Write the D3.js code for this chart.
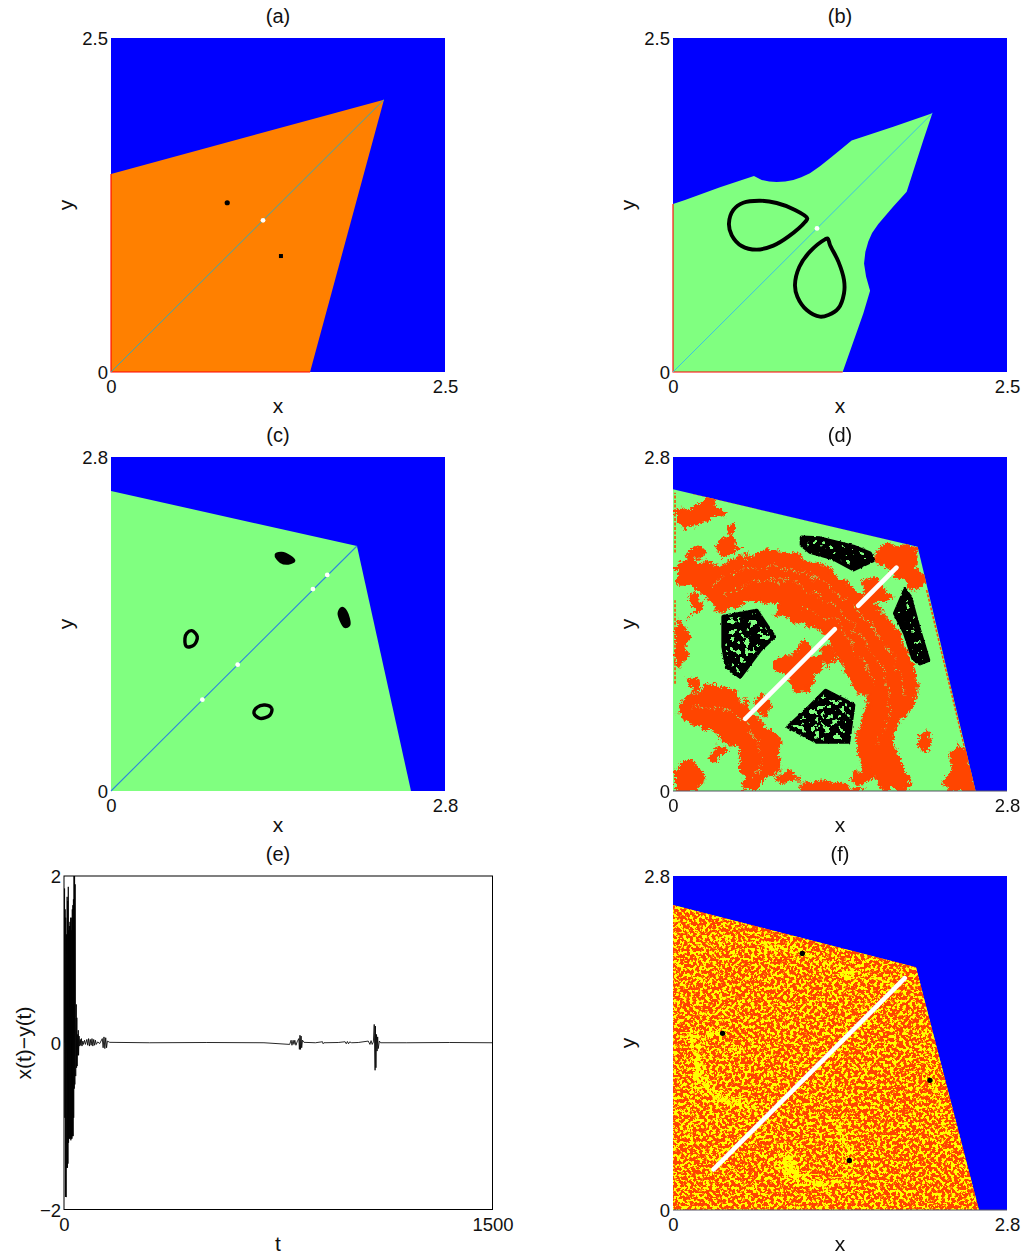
<!DOCTYPE html>
<html><head><meta charset="utf-8">
<script src="https://cdn.jsdelivr.net/npm/d3@7"></script>
<style>html,body{margin:0;padding:0;background:#fff}svg{display:block}
text{font-family:"Liberation Sans",Arial,sans-serif;fill:#111}</style></head>
<body><div id="c"></div>
<script>
// ---------- data (all in axis units) ----------
const regionA=[[0,0],[0,1.482],[2.043,2.038],[1.49,0]];
const regionB=[[0,0],[0,1.257],[.09,1.287],[.352,1.382],[.606,1.467],[.664,1.437],[.72,1.425],[.776,1.422],[.84,1.425],[.901,1.437],[.96,1.458],[1.025,1.487],[1.1,1.54],[1.175,1.599],[1.26,1.67],[1.337,1.732],[1.649,1.836],[1.941,1.936],[1.874,1.737],[1.749,1.35],[1.649,1.238],[1.537,1.108],[1.49,1.04],[1.462,.976],[1.44,.9],[1.43,.813],[1.445,.714],[1.475,.609],[1.425,.439],[1.27,0]];
const tipB=[1.941,1.936];
const regionC=[[0,0],[0,2.515],[2.062,2.054],[2.515,0]];
const regionD=[[0,0],[0,2.529],[2.051,2.048],[2.537,0]];
const regionF=[[0,0],[0,2.557],[2.037,2.034],[2.565,0]];

const dotsABlack=[[.87,1.267]];
const dotsASquare=[[1.272,.868]];
const dotsAWhite=[[1.138,1.135]];
const dotsBWhite=[[1.078,1.075]];
const dotsCWhite=[[.766,.766],[1.062,1.059],[1.693,1.693],[1.813,1.811]];
const dotsFBlack=[[1.084,2.151],[.416,1.481],[2.154,1.087],[1.478,.416]];

const dropB1=[[1.005,1.15],[.901,1.218],[.776,1.265],[.651,1.282],[.526,1.267],[.452,1.213],[.419,1.113],[.439,1.025],[.514,.943],[.626,.916],[.751,.946],[.863,1.013],[.99,1.125]];
const dropB2=[[1.158,1.0],[1.175,.951],[1.238,.826],[1.28,.689],[1.28,.589],[1.238,.477],[1.163,.427],[1.1,.414],[1.001,.464],[.931,.564],[.913,.651],[.946,.788],[1.025,.901],[1.138,.993]];

const ovalC1=[[1.383,1.978],[1.431,1.993],[1.501,1.964],[1.534,1.931],[1.486,1.909],[1.423,1.922]];
const ovalC2=[[1.934,1.532],[1.97,1.503],[1.995,1.392],[1.962,1.377],[1.926,1.434],[1.911,1.49]];
const ovalC3=[[.677,1.344],[.723,1.294],[.696,1.224],[.635,1.21],[.62,1.28],[.635,1.322]];
const ovalC4=[[1.291,.721],[1.347,.693],[1.333,.637],[1.249,.609],[1.199,.651],[1.226,.702]];

const redBands=[
 [[.017,1.894],[.142,1.95],[.338,1.894],[.59,1.964],[.869,2.034],[1.092,1.964],[1.288,1.88],[1.456,1.741],[1.679,1.573],[1.847,1.377],[1.973,1.154],[2.042,.902],[2.0,.735],[1.903,.623],[1.847,.427],[1.889,.26],[1.973,.092],[1.903,.008],[1.763,.008],[1.707,.12],[1.567,.232],[1.526,.4],[1.567,.595],[1.651,.707],[1.637,.847],[1.512,.833],[1.456,.986],[1.344,1.21],[1.26,1.349],[1.065,1.433],[.841,1.489],[.897,1.545],[.729,1.615],[.562,1.573],[.366,1.523],[.282,1.629],[.142,1.755],[.017,1.755]],
 [[.017,.735],[.142,.819],[.338,.916],[.506,.847],[.645,.679],[.785,.539],[.911,.4],[.869,.204],[.701,.036],[.576,.008],[.562,.176],[.52,.344],[.366,.483],[.226,.553],[.031,.665]],
 [[.855,1.126],[.953,1.154],[1.092,1.266],[1.204,1.112],[1.288,1.154],[1.176,.93],[1.065,.861],[.953,.93],[.869,1.042]],
 [[.017,2.369],[.17,2.397],[.31,2.453],[.422,2.355],[.254,2.272],[.087,2.216],[.017,2.272]],
 [[.366,2.118],[.492,2.146],[.562,2.048],[.436,1.992],[.366,2.048]],
 [[1.679,2.02],[1.791,2.09],[2.042,2.034],[2.014,1.908],[2.098,1.769],[2.042,1.685],[1.875,1.825],[1.707,1.936]],
 [[1.567,1.755],[1.651,1.811],[1.735,1.713],[1.819,1.629],[1.707,1.601],[1.595,1.657]],
 [[.017,1.461],[.087,1.405],[.101,1.182],[.059,1.014],[.017,1.042]],
 [[2.042,.483],[2.098,.539],[2.154,.455],[2.126,.358],[2.056,.4]],
 [[2.266,.064],[2.322,.344],[2.378,.4],[2.461,.316],[2.531,.008],[2.294,.008]],
 [[.017,.204],[.142,.274],[.254,.148],[.17,.008],[.017,.008]],
 [[.282,.344],[.366,.4],[.436,.344],[.366,.26],[.296,.288]],
 [[1.037,.064],[1.288,.092],[1.484,.064],[1.567,.008],[1.065,.008]],
 [[.673,.763],[.729,.805],[.813,.735],[.757,.651],[.701,.693]],
 [[1.484,.134],[1.623,.204],[1.679,.12],[1.567,.064]],
 [[.883,.162],[1.009,.176],[1.051,.106],[.897,.092]],
 [[.142,1.615],[.198,1.657],[.212,1.545],[.142,1.489]],
 [[.129,.958],[.184,.958],[.198,.874],[.142,.847]],
 [[.45,2.22],[.5,2.25],[.52,2.18],[.47,2.16]],
 [[.09,2.0],[.2,2.08],[.24,1.98],[.12,1.93]],
 [[1.3,1.24],[1.36,1.16],[1.3,1.05],[1.25,1.12]],
 [[1.62,1.66],[1.7,1.58],[1.76,1.53],[1.66,1.54]]
];
const greenArcs=[
 [[.31,1.741],[.617,1.88],[.953,1.88],[1.232,1.769],[1.484,1.573],[1.707,1.322],[1.875,1.042],[1.931,.819]],
 [[.422,1.657],[.729,1.783],[1.009,1.755],[1.232,1.629],[1.456,1.433],[1.651,1.182],[1.791,.902],[1.791,.623],[1.707,.4]],
 [[1.065,1.545],[1.26,1.489],[1.456,1.294],[1.595,1.07],[1.679,.902]],
 [[.17,.707],[.394,.707],[.617,.539],[.729,.288],[.673,.12]]
];
const redEdges=[[[.17,2.495],[1.847,2.104]],[[2.126,1.685],[2.517,.064]],[[.017,.9],[.017,1.6]],[[.017,2.0],[.017,2.5]]];
const blackD=[
 {pts:[[1.079,2.126],[1.232,2.118],[1.512,2.048],[1.651,1.992],[1.679,1.936],[1.512,1.858],[1.344,1.95],[1.148,2.006],[1.079,2.062]],holes:"few"},
 {pts:[[1.945,1.685],[1.987,1.629],[2.056,1.377],[2.14,1.098],[2.07,1.07],[2.014,1.112],[1.945,1.321],[1.861,1.489]],holes:"few"},
 {pts:[[.422,1.461],[.701,1.512],[.847,1.294],[.729,1.182],[.562,.958],[.45,1.042],[.422,1.21]],holes:"many"},
 {pts:[[1.28,.841],[1.512,.721],[1.47,.413],[1.204,.413],[.967,.539],[1.12,.679]],holes:"many"}
];
const whiteSegsD=[[[.605,.605],[1.357,1.357]],[[1.553,1.553],[1.873,1.873]]];
const whiteSegF=[[.34,.34],[1.943,1.943]];
const yellowPaths=[
 {w:9,pts:[[.757,2.202],[1.065,2.165],[1.316,2.054],[1.484,1.914]]},
 {w:7,pts:[[1.45,2.0],[1.7,1.96],[1.9,1.85]]},
 {w:8,pts:[[2.084,1.509],[2.154,1.257],[2.21,.95],[2.294,.643]]},
 {w:13,pts:[[.17,1.481],[.212,1.285],[.24,1.118],[.366,.95],[.645,.88]]},
 {w:10,pts:[[.953,.391],[1.12,.251],[1.288,.21],[1.456,.321],[1.478,.447],[1.372,.726]]},
 {w:12,pts:[[.31,1.481],[.436,1.481]]},
 {w:7,pts:[[.394,1.327],[.617,1.369],[.841,1.327]]},
 {w:20,pts:[[.939,.419],[.995,.307]]},
 {w:6,pts:[[1.092,.503],[1.148,.391]]},
 {w:6,pts:[[.2,2.2],[.5,2.28],[.757,2.202]]},
 {w:6,pts:[[.1,.55],[.18,.9],[.17,1.2]]},
 {w:6,pts:[[.64,.88],[.75,.75],[.8,.58]]}
];
const ticksAB=[0,2.5], ticksCDF=[0,2.8], ticksEx=[0,1500], ticksEy=[-2,0,2];
const panelTitles=["(a)","(b)","(c)","(d)","(e)","(f)"];
const eT=[0,2,3,4,5,6,7,8,9,10,11,12,13,14,15,16,17,18,19,20,21,22,23,24,25,26,27,28,29,30,31,32,33,34,35,36,37,38,39,40,41,43,44,45,46,48,49,50,51,53,55,57,59,61,63,66,68,72,75,80,83,86,89,92,95,98,101,104,107,110,113,118,125,134,137,140,143,146,149,152,160,300,500,700,790,795,798,802,805,808,812,816,822,824,826,828,830,832,835,840,880,905,907,910,960,984,988,992,996,1000,1007,1030,1065,1071,1075,1079,1083,1086,1089,1090,1092,1094,1096,1098,1100,1104,1108,1200,1350,1500];
const eV=[0,1.85,-.9,1.6,-1.85,1.5,-1.85,-1.85,1.3,-1.5,1.75,-1.5,1.7,-1.45,1.87,-1.2,1.35,-1.15,1.4,-1.15,1.45,-1.15,1.5,-1.17,1.35,-1.15,1.5,-1.15,1.6,-1.12,1.65,-1.12,1.72,-.9,2.05,-.55,2.05,-.5,1.9,.3,-.4,.46,-.3,.3,-.28,.1,-.15,.15,-.15,.08,-.04,.04,-.03,.05,-.04,.02,-.02,.03,-.02,.04,-.03,.05,-.04,.04,-.03,.05,-.04,.04,-.03,.03,-.02,.01,-.01,.05,-.06,.07,-.07,.06,-.06,.02,.005,0,.003,0,-.02,.03,-.03,.03,-.02,.03,-.03,.01,.05,-.08,.09,-.08,.08,-.06,.03,.005,0,.012,-.012,0,.003,.012,-.012,.015,-.012,.01,0,.003,.02,-.02,.025,-.02,.01,.22,-.33,.2,-.3,.1,-.1,.07,-.07,.02,0,0,.003,0];

// ---------- layout and scales ----------
const colors={blue:"#0000ff",green:"#80ff80",orange:"#ff8000",red:"#ff4500",pure:"#ff0000"};
const W=1023,H=1255,FS_TICK=18.5,FS_TITLE=20,FS_LAB=21;
const svg=d3.select("#c").append("svg").attr("width",W).attr("height",H).attr("viewBox",[0,0,W,H]);
const defs=svg.append("defs");
const frames={a:[111,38],b:[673,38],c:[111,457],d:[673,457],f:[673,876]};
const SIZE=334;
function scales(k,max){const [l,t]=frames[k];
  return {x:d3.scaleLinear([0,max],[l,l+SIZE]),y:d3.scaleLinear([0,max],[t+SIZE,t]),l,t};}
function poly(s,curve){return d3.line().x(d=>s.x(d[0])).y(d=>s.y(d[1])).curve(curve||d3.curveLinearClosed);}
const open=(s)=>poly(s,d3.curveCatmullRom);
const lin=(s)=>poly(s,d3.curveLinear);

function axes(s,ticks,title){
  const xa=d3.axisBottom(s.x).tickValues(ticks).tickSize(0).tickPadding(8).tickFormat(d=>d);
  const ya=d3.axisLeft(s.y).tickValues(ticks).tickSize(0).tickPadding(3).tickFormat(d=>d);
  const gx=svg.append("g").attr("transform",`translate(0,${s.y.range()[0]})`).call(xa);
  const gy=svg.append("g").attr("transform",`translate(${s.x.range()[0]},1)`).call(ya);
  [gx,gy].forEach(g=>{g.select(".domain").remove();g.attr("font-family",null);g.selectAll("text").attr("font-size",FS_TICK).attr("fill","#111");});
  const cx=d3.mean(s.x.range());
  svg.append("text").attr("x",cx).attr("y",s.y.range()[1]-15).attr("text-anchor","middle").attr("font-size",FS_TITLE).text(title);
  svg.append("text").attr("x",cx).attr("y",s.y.range()[0]+41).attr("text-anchor","middle").attr("font-size",FS_LAB).text("x");
  svg.append("text").attr("transform",`translate(${s.x.range()[0]-38},${d3.mean(s.y.range())}) rotate(-90)`).attr("text-anchor","middle").attr("font-size",FS_LAB).text("y");
}
function background(s,region,fill){
  svg.append("rect").attr("x",s.l).attr("y",s.t).attr("width",SIZE).attr("height",SIZE).attr("fill",colors.blue);
  return svg.append("path").attr("d",poly(s)(region)).attr("fill",fill);
}
function dots(s,data,r,fill){svg.append("g").selectAll("circle").data(data).join("circle").attr("cx",d=>s.x(d[0])).attr("cy",d=>s.y(d[1])).attr("r",r).attr("fill",fill);}
function diag(s,end,color,w){svg.append("path").attr("d",lin(s)([[0,0],end])).attr("stroke",color).attr("stroke-width",w||1).attr("fill","none");}
function axisRed(s,regionY,regionX){
  svg.append("path").attr("d",lin(s)([[0,regionY],[0,0],[regionX,0]])).attr("stroke",colors.pure).attr("stroke-width",1.1).attr("fill","none");
}

// ---------- filters ----------
function baseFilter(id,s,pad){return defs.append("filter").attr("id",id).attr("filterUnits","userSpaceOnUse").attr("x",s.l-pad).attr("y",s.t-pad).attr("width",SIZE+2*pad).attr("height",SIZE+2*pad).attr("color-interpolation-filters","sRGB");}
function addRough(id,f,scale,s,f2,scale2){
  const fl=baseFilter(id,s,10);
  fl.append("feTurbulence").attr("type","fractalNoise").attr("baseFrequency",f).attr("numOctaves",5).attr("seed",4).attr("result","n");
  fl.append("feDisplacementMap").attr("in","SourceGraphic").attr("in2","n").attr("scale",scale).attr("xChannelSelector","R").attr("yChannelSelector","G").attr("result","d1");
  if(f2){
    fl.append("feTurbulence").attr("type","turbulence").attr("baseFrequency",f2).attr("numOctaves",2).attr("seed",9).attr("result","n2");
    fl.append("feDisplacementMap").attr("in","d1").attr("in2","n2").attr("scale",scale2).attr("xChannelSelector","G").attr("yChannelSelector","R");
  }
}
function addHoles(id,cut,s){
  const fl=baseFilter(id,s,0);
  fl.append("feTurbulence").attr("type","fractalNoise").attr("baseFrequency",.2).attr("numOctaves",2).attr("seed",11).attr("result","n");
  fl.append("feColorMatrix").attr("in","n").attr("type","matrix").attr("values",`0 0 0 0 .5  0 0 0 0 1  0 0 0 0 .5  30 0 0 0 ${-30*cut}`).attr("result","h");
  fl.append("feComposite").attr("in","h").attr("in2","SourceAlpha").attr("operator","in").attr("result","hh");
  const m=fl.append("feMerge");m.append("feMergeNode").attr("in","SourceGraphic");m.append("feMergeNode").attr("in","hh");
}

// ---------- panel (a) ----------
{const s=scales("a",2.5);
 background(s,regionA,colors.orange);
 axisRed(s,regionA[1][1],regionA[3][0]);
 diag(s,regionA[2],"#35a9b5",1);
 dots(s,dotsABlack,2.6,"#000");
 svg.append("g").selectAll("path").data(dotsASquare).join("path").attr("transform",d=>`translate(${s.x(d[0])},${s.y(d[1])})`).attr("d",d3.symbol(d3.symbolSquare,16)).attr("fill","#000");
 dots(s,dotsAWhite,2.4,"#fff");
 axes(s,ticksAB,panelTitles[0]);}

// ---------- panel (b) ----------
{const s=scales("b",2.5);
 background(s,regionB,colors.green);
 axisRed(s,regionB[1][1],regionB[regionB.length-1][0]);
 diag(s,tipB,"#3cc4e0",1);
 [dropB1,dropB2].forEach(d=>svg.append("path").attr("d",poly(s,d3.curveCatmullRomClosed)(d)).attr("fill","none").attr("stroke","#000").attr("stroke-width",3.9));
 dots(s,dotsBWhite,2.4,"#fff");
 axes(s,ticksAB,panelTitles[1]);}

// ---------- panel (c) ----------
{const s=scales("c",2.8);
 background(s,regionC,colors.green);
 diag(s,regionC[2],"#2f86dc",1.1);
 [[ovalC1,"#000"],[ovalC2,"#000"],[ovalC3,"none"],[ovalC4,"none"]].forEach(([d,f])=>svg.append("path").attr("d",poly(s,d3.curveCatmullRomClosed)(d)).attr("fill",f).attr("stroke","#000").attr("stroke-width",f==="none"?3.4:2.8));
 dots(s,dotsCWhite,2.4,"#fff");
 axes(s,ticksCDF,panelTitles[2]);}

// ---------- panel (d) ----------
{const s=scales("d",2.8);
 addRough("roughD",.07,15,s,.3,6); addRough("roughB",.3,2.5,s);
 addHoles("holesMany",.58,s); addHoles("holesFew",.65,s);
 defs.append("clipPath").attr("id","clipD").append("path").attr("d",poly(s)(regionD));
 background(s,regionD,colors.green);
 const g=svg.append("g").attr("clip-path","url(#clipD)").append("g").attr("filter","url(#roughD)");
 g.selectAll("path.band").data(redBands).join("path").attr("class","band").attr("d",d=>poly(s)(d)).attr("fill",colors.red).attr("stroke",colors.red).attr("stroke-width",2);
 g.selectAll("path.arc").data(greenArcs).join("path").attr("class","arc").attr("d",d=>open(s)(d)).attr("fill","none").attr("stroke","#a8d868").attr("stroke-width",1.3).attr("stroke-dasharray","1.6 2.4");
 const ge=svg.append("g").attr("clip-path","url(#clipD)");
 ge.selectAll("path").data(redEdges).join("path").attr("d",d=>lin(s)(d)).attr("stroke",colors.red).attr("stroke-width",1.6).attr("stroke-dasharray","3 1.5").attr("fill","none");
 const gb=svg.append("g").attr("filter","url(#roughB)");
 blackD.forEach(b=>{
   gb.append("path").attr("d",poly(s)(b.pts)).attr("fill","#000").attr("filter",b.holes==="many"?"url(#holesMany)":"url(#holesFew)");
   gb.append("path").attr("d",poly(s)(b.pts)).attr("fill","none").attr("stroke","#000").attr("stroke-width",4).attr("stroke-linejoin","round");
 });
 svg.append("g").selectAll("path").data(whiteSegsD).join("path").attr("d",d=>lin(s)(d)).attr("stroke","#fff").attr("stroke-width",4.6).attr("stroke-linecap","round").attr("fill","none");
 svg.append("path").attr("d",lin(s)([[0,0],[2.8,0]])).attr("stroke","#556").attr("stroke-width",1);
 axes(s,ticksCDF,panelTitles[3]);}

// ---------- panel (f) ----------
{const s=scales("f",2.8);
 const fl=baseFilter("speckle",s,0);
 fl.append("feTurbulence").attr("type","fractalNoise").attr("baseFrequency",.31).attr("numOctaves",3).attr("seed",7);
 fl.append("feColorMatrix").attr("type","matrix").attr("values","0 0 0 0 1  7 0 0 0 -3.1  0 0 0 0 0  0 0 0 0 1");
 fl.append("feComponentTransfer").append("feFuncG").attr("type","discrete").attr("tableValues",".27 .27 .27 .55 .55 1 1");
 fl.append("feGaussianBlur").attr("stdDeviation",.35);
 // yellow veins: the drawn paths are blurred and cut against a noise field, so they break up like the speckle
 const fy=baseFilter("veins",s,0);
 fy.append("feGaussianBlur").attr("in","SourceAlpha").attr("stdDeviation",3).attr("result","b");
 fy.append("feTurbulence").attr("type","fractalNoise").attr("baseFrequency",.31).attr("numOctaves",3).attr("seed",21).attr("result","t");
 fy.append("feColorMatrix").attr("in","t").attr("type","matrix").attr("values","0 0 0 0 0  0 0 0 0 0  0 0 0 0 0  1 0 0 0 0").attr("result","n");
 fy.append("feComposite").attr("in","b").attr("in2","n").attr("operator","arithmetic").attr("k1",0).attr("k2",.35).attr("k3",.65).attr("k4",0).attr("result","sum");
 fy.append("feColorMatrix").attr("in","sum").attr("type","matrix").attr("values","0 0 0 0 1  0 0 0 0 1  0 0 0 0 0  0 0 0 25 -15");
 fy.append("feGaussianBlur").attr("stdDeviation",.35);
 defs.append("clipPath").attr("id","clipF").append("path").attr("d",poly(s)(regionF));
 background(s,regionF,colors.orange);
 const g=svg.append("g").attr("clip-path","url(#clipF)");
 g.append("rect").attr("x",s.l).attr("y",s.t).attr("width",SIZE).attr("height",SIZE).attr("filter","url(#speckle)");
 g.append("g").attr("filter","url(#veins)").selectAll("path").data(yellowPaths).join("path").attr("d",d=>open(s)(d.pts)).attr("fill","none").attr("stroke","#ffff00").attr("stroke-width",d=>d.w).attr("stroke-linecap","round");
 svg.append("path").attr("d",lin(s)(whiteSegF)).attr("stroke","#fff").attr("stroke-width",4.6).attr("stroke-linecap","round").attr("fill","none");
 dots(s,dotsFBlack,2.7,"#000");
 svg.append("path").attr("d",lin(s)([[0,0],[2.8,0]])).attr("stroke","#556").attr("stroke-width",1);
 axes(s,ticksCDF,panelTitles[5]);}

// ---------- panel (e) ----------
{const xs=d3.scaleLinear([0,1500],[64,492.5]), ys=d3.scaleLinear([-2,2],[1209.5,876]);
 defs.append("clipPath").attr("id","clipE").append("rect").attr("x",64).attr("y",876).attr("width",428.5).attr("height",333.5);
 const pts=eT.map((t,i)=>[t,eV[i]]);
 svg.append("g").attr("clip-path","url(#clipE)").append("path").datum(pts).attr("d",d3.line().x(d=>xs(d[0])).y(d=>ys(d[1]))).attr("fill","none").attr("stroke","#000").attr("stroke-width",.85);
 svg.append("rect").attr("x",64).attr("y",876).attr("width",428.5).attr("height",333.5).attr("fill","none").attr("stroke","#000").attr("stroke-width",1);
 const gx=svg.append("g").attr("transform","translate(0,1209.5)").call(d3.axisBottom(xs).tickValues(ticksEx).tickSize(0).tickPadding(8).tickFormat(d=>d));
 const gy=svg.append("g").attr("transform","translate(64,1)").call(d3.axisLeft(ys).tickValues(ticksEy).tickSize(0).tickPadding(3).tickFormat(d=>d<0?"\u2212"+(-d):d));
 [gx,gy].forEach(g=>{g.select(".domain").remove();g.attr("font-family",null);g.selectAll("text").attr("font-size",FS_TICK).attr("fill","#111");});
 svg.append("text").attr("x",278).attr("y",861).attr("text-anchor","middle").attr("font-size",FS_TITLE).text(panelTitles[4]);
 svg.append("text").attr("x",278).attr("y",1251).attr("text-anchor","middle").attr("font-size",FS_LAB).text("t");
 svg.append("text").attr("transform","translate(31,1043) rotate(-90)").attr("text-anchor","middle").attr("font-size",FS_LAB).text("x(t)\u2212y(t)");}
</script></body></html>
